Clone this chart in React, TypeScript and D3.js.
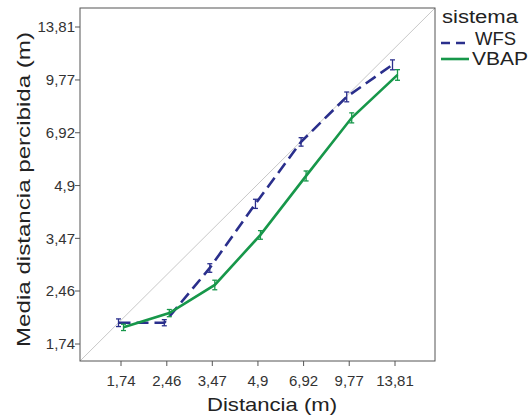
import React from "react";
import * as d3 from "d3";

const distances = [1.74, 2.46, 3.47, 4.9, 6.92, 9.77, 13.81];
const tickLabels = ["1,74", "2,46", "3,47", "4,9", "6,92", "9,77", "13,81"];
const wfsMean = [2.0, 2.0, 2.86, 4.35, 6.52, 8.75, 10.79];
const wfsErr = [0.05, 0.04, 0.08, 0.13, 0.18, 0.28, 0.35];
const vbapMean = [1.94, 2.13, 2.56, 3.55, 5.22, 7.63, 10.1];
const vbapErr = [0.04, 0.05, 0.08, 0.1, 0.17, 0.25, 0.35];

const W = 530, H = 416;
const frame = { left: 80, right: 435, top: 8, bottom: 361 };
const font = "Liberation Sans, Arial, Helvetica, sans-serif";

export default function App() {
  const x = d3.scaleLog().domain([1.74, 13.81]).range([121, 395]);
  const y = d3.scaleLog().domain([1.74, 13.81]).range([344, 27]);

  const series = [
    { name: "WFS", mean: wfsMean, err: wfsErr, color: "#2a2f8c", dash: "12,6", dx: -2.5 },
    { name: "VBAP", mean: vbapMean, err: vbapErr, color: "#17974a", dash: "", dx: 2.5 },
  ];

  const line = d3.line<[number, number]>().x((d) => d[0]).y((d) => d[1]);

  return (
    <svg width={W} height={H} style={{ position: "absolute", left: 0, top: 0, background: "#fff" }}>
      <rect x={0} y={0} width={W} height={H} fill="#fff" />
      <line x1={frame.left} y1={frame.bottom} x2={frame.right} y2={frame.top} stroke="#c8c8c8" strokeWidth={1} />
      <rect x={frame.left} y={frame.top} width={frame.right - frame.left} height={frame.bottom - frame.top} fill="none" stroke="#555" strokeWidth={1} />
      {distances.map((d, i) => (
        <g key={"y" + i}>
          <line x1={frame.left - 5} x2={frame.left} y1={y(d)} y2={y(d)} stroke="#555" />
          <text x={frame.left - 5} y={y(d)} dy="0.36em" textAnchor="end" fontFamily={font} fontSize={15} fill="#333">{tickLabels[i]}</text>
        </g>
      ))}
      {distances.map((d, i) => (
        <g key={"x" + i}>
          <line x1={x(d)} x2={x(d)} y1={frame.bottom} y2={frame.bottom + 5} stroke="#555" />
          <text x={x(d)} y={386} textAnchor="middle" fontFamily={font} fontSize={15} fill="#333">{tickLabels[i]}</text>
        </g>
      ))}
      {series.map((s) => {
        const pts: [number, number][] = distances.map((d, i) => [x(d) + s.dx, y(s.mean[i])]);
        return (
          <g key={s.name}>
            <path d={line(pts) || ""} fill="none" stroke={s.color} strokeWidth={2.6} strokeDasharray={s.dash} />
            {distances.map((d, i) => {
              const cx = x(d) + s.dx;
              const y1 = y(s.mean[i] - s.err[i]);
              const y2 = y(s.mean[i] + s.err[i]);
              return (
                <g key={i} stroke={s.color} strokeWidth={1.3}>
                  <line x1={cx} x2={cx} y1={y1} y2={y2} />
                  <line x1={cx - 2.5} x2={cx + 2.5} y1={y1} y2={y1} />
                  <line x1={cx - 2.5} x2={cx + 2.5} y1={y2} y2={y2} />
                </g>
              );
            })}
          </g>
        );
      })}
      <text x={207} y={411} textLength={130} lengthAdjust="spacingAndGlyphs" fontFamily={font} fontSize={19} fill="#222">Distancia (m)</text>
      <text transform={`translate(30,347) rotate(-90)`} textLength={315} lengthAdjust="spacingAndGlyphs" fontFamily={font} fontSize={19} fill="#222">Media distancia percibida (m)</text>
      <text x={442} y={23} textLength={76} lengthAdjust="spacingAndGlyphs" fontFamily={font} fontSize={18} fill="#222">sistema</text>
      <line x1={441} x2={465} y1={43} y2={43} stroke="#2a2f8c" strokeWidth={2.6} strokeDasharray="9,6" />
      <text x={475} y={45} textLength={41} lengthAdjust="spacingAndGlyphs" fontFamily={font} fontSize={18} fill="#222">WFS</text>
      <line x1={441} x2={469} y1={59} y2={59} stroke="#17974a" strokeWidth={2.6} />
      <text x={472} y={65} textLength={56} lengthAdjust="spacingAndGlyphs" fontFamily={font} fontSize={18} fill="#222">VBAP</text>
    </svg>
  );
}
